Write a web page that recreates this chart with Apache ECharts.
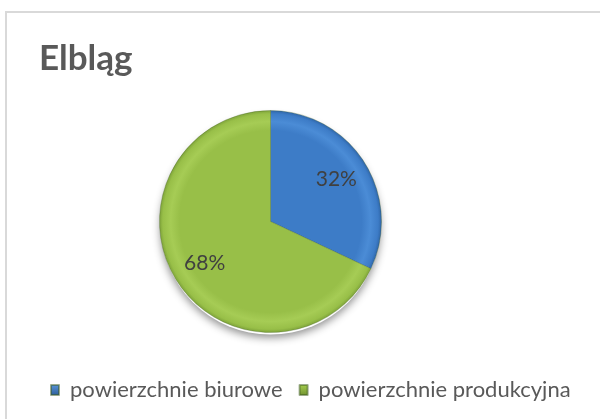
<!DOCTYPE html>
<html><head><meta charset="utf-8">
<script src="https://cdn.jsdelivr.net/npm/echarts@6/dist/echarts.min.js"></script>
<style>html,body{margin:0;padding:0;background:#fff}#c{width:600px;height:419px}</style>
</head><body><div id="c"></div>
<script>
const titleText = 'Elbląg';
const categories = ['powierzchnie biurowe', 'powierzchnie produkcyjna'];
const values = [32, 68];

const CX = 270.5, CY = 221.5, R = 111;
function grad(base, light, dark) {
  return new echarts.graphic.RadialGradient(CX, CY, R, [
    {offset: 0, color: base},
    {offset: 0.82, color: base},
    {offset: 0.9, color: light},
    {offset: 0.97, color: base},
    {offset: 1, color: dark}
  ], true);
}
function lgrad(top, bottom) {
  return new echarts.graphic.LinearGradient(0, 0, 0, 1, [
    {offset: 0, color: top}, {offset: 1, color: bottom}
  ]);
}
const fills = [grad('#3D7CC7', '#4B8CD6', '#2F66A8'), grad('#98BF48', '#A6CC55', '#7EA33A')];
const legendFills = [lgrad('#5B97DD', '#2A5A96'), lgrad('#A8D150', '#6F8F2E')];

const chart = echarts.init(document.getElementById('c'));
chart.setOption({
  animation: false,
  backgroundColor: '#fff',
  graphic: [{
    type: 'rect', z: -10,
    shape: {x: 6, y: 12, width: 700, height: 500},
    style: {fill: 'none', stroke: '#D9D9D9', lineWidth: 2}
  }],
  title: {
    text: titleText, left: 34, top: 36,
    textStyle: {fontFamily: 'Lato', fontWeight: 'bold', fontSize: 35, color: '#595959'}
  },
  legend: {
    left: 45, top: 374, itemGap: 16, itemWidth: 8, itemHeight: 10, icon: 'rect',
    textStyle: {fontFamily: 'Lato', fontSize: 22, color: '#595959', padding: [0, 0, 0, 6]},
    data: categories.map((n, i) => ({name: n, itemStyle: {color: legendFills[i]}}))
  },
  series: [{
    type: 'pie', silent: true, z: 1,
    center: [CX, CY + 3], radius: [0, R - 1],
    label: {show: false}, labelLine: {show: false},
    itemStyle: {color: '#fff', shadowBlur: 8, shadowOffsetY: 3, shadowColor: 'rgba(0,0,0,0.45)'},
    data: [{value: 1, name: '_shadow'}]
  }, {
    type: 'pie', z: 2, startAngle: 90, clockwise: true,
    center: [CX, CY], radius: [0, R],
    label: {show: false}, labelLine: {show: false},
    itemStyle: {borderWidth: 0.6, borderColor: 'rgba(60,90,30,0.5)'},
    data: categories.map((n, i) => ({name: n, value: values[i], itemStyle: {color: fills[i]}}))
  }, {
    type: 'pie', z: 3, silent: true, startAngle: 90, clockwise: true,
    center: [CX, CY], radius: [39, R],
    itemStyle: {color: 'rgba(0,0,0,0)'},
    label: {show: true, position: 'inside', formatter: '{d}%', fontFamily: 'Lato', fontSize: 21, color: '#404040'},
    labelLine: {show: false},
    data: categories.map((n, i) => ({name: n, value: values[i]}))
  }]
});
</script></body></html>
